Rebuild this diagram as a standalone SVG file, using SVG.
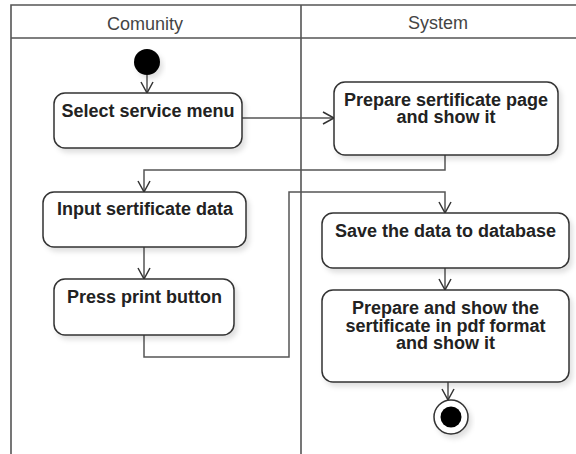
<svg xmlns="http://www.w3.org/2000/svg" width="576" height="454" viewBox="0 0 576 454">
<style>
.lane{fill:none;stroke:#555;stroke-width:1.6}
.hdr{font-family:"Liberation Sans",Arial,sans-serif;font-size:18px;fill:#444;text-anchor:middle}
.box{fill:#fff;stroke:#333;stroke-width:1.5;filter:url(#sh)}
.lbl{font-family:"Liberation Sans",Arial,sans-serif;font-size:18px;font-weight:bold;fill:#222;text-anchor:middle}
.edge{fill:none;stroke:#555;stroke-width:1.5;marker-end:url(#arr)}
</style>
<defs>
<filter id="sh" x="-10%" y="-10%" width="130%" height="140%">
<feDropShadow dx="3" dy="4" stdDeviation="2.5" flood-color="#000" flood-opacity="0.12"/>
</filter>
<marker id="arr" markerWidth="14" markerHeight="14" refX="12" refY="7" orient="auto" markerUnits="userSpaceOnUse">
<path d="M1,1 L12,7 L1,13" fill="none" stroke="#333" stroke-width="1.5"/>
</marker>
</defs>
<g id="swimlanes">
<path class="lane" d="M11,454 V5 H576 M11,38 H576 M301,5 V454"/>
<text class="hdr" x="145" y="30">Comunity</text>
<text class="hdr" x="438" y="29">System</text>
</g>
<g id="connectors">
<path class="edge" d="M147,75 V93"/>
<path class="edge" d="M242,118 H334"/>
<path class="edge" d="M445,155 V170 H144 V192"/>
<path class="edge" d="M144,247 V279"/>
<path class="edge" d="M144,335 V357 H289 V192 H445 V213"/>
<path class="edge" d="M445,268 V290"/>
<path class="edge" d="M448,382 V400"/>
</g>
<g id="start">
<circle cx="147" cy="62" r="13" fill="#000" filter="url(#sh)"/>
</g>
<g id="select-service-menu">
<rect class="box" x="54" y="93" width="188" height="55" rx="11"/>
<text class="lbl" x="148" y="117">Select service menu</text>
</g>
<g id="prepare-sertificate-page">
<rect class="box" x="334" y="82" width="224" height="73" rx="11"/>
<text class="lbl" x="446" y="106">Prepare sertificate page</text>
<text class="lbl" x="446" y="123">and show it</text>
</g>
<g id="input-sertificate-data">
<rect class="box" x="43" y="192" width="203" height="55" rx="11"/>
<text class="lbl" x="145" y="215">Input sertificate data</text>
</g>
<g id="press-print-button">
<rect class="box" x="54" y="279" width="180" height="56" rx="11"/>
<text class="lbl" x="144.5" y="303">Press print button</text>
</g>
<g id="save-data">
<rect class="box" x="322" y="213" width="247" height="55" rx="11"/>
<text class="lbl" x="445.5" y="237">Save the data to database</text>
</g>
<g id="prepare-pdf">
<rect class="box" x="322" y="290" width="247" height="92" rx="11"/>
<text class="lbl" x="445.5" y="314">Prepare and show the</text>
<text class="lbl" x="445.5" y="332">sertificate in pdf format</text>
<text class="lbl" x="445.5" y="349">and show it</text>
</g>
<g id="end">
<circle cx="451" cy="417" r="17" fill="#fff" stroke="#333" stroke-width="1.5" filter="url(#sh)"/>
<circle cx="451" cy="417" r="10.5" fill="#000"/>
</g>
</svg>
